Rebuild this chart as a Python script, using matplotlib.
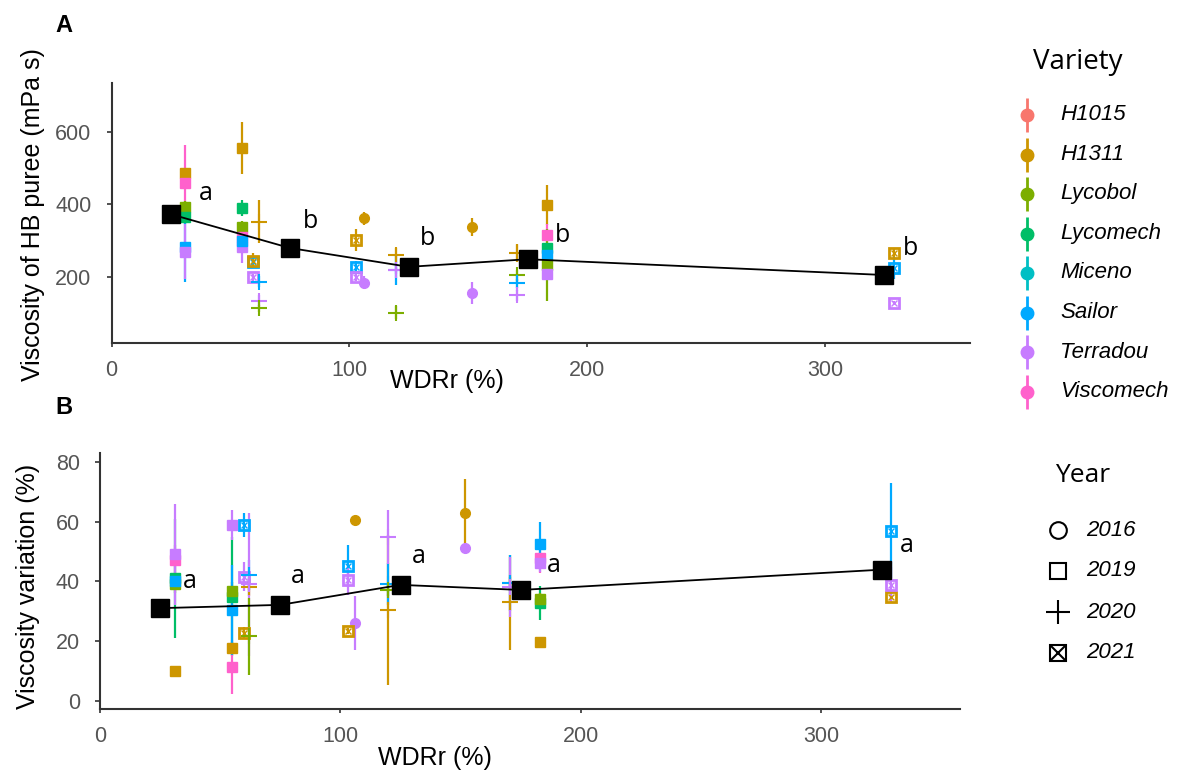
import numpy as np
import matplotlib
matplotlib.use("Agg")
import matplotlib.pyplot as plt

plt.rcParams['font.family'] = ['Liberation Sans', 'DejaVu Sans']

# varieties and ggplot default hue colours
varieties = ["H1015", "H1311", "Lycobol", "Lycomech", "Miceno", "Sailor", "Terradou", "Viscomech"]
var_colors = ["#F8766D", "#CD9600", "#7CAE00", "#00BE67", "#00BFC4", "#00A9FF", "#C77CFF", "#FF61CC"]
years = ["2016", "2019", "2020", "2021"]

obs_variety = ["H1311", "Viscomech", "Lycobol", "Lycomech", "Sailor", "Terradou",
               "H1311", "Lycomech", "Lycobol", "Viscomech", "Terradou", "Sailor",
               "Sailor", "H1311", "Terradou",
               "H1311", "Sailor", "Terradou", "Lycobol",
               "H1311", "Terradou",
               "H1311", "Sailor", "Terradou",
               "H1311", "Sailor", "Terradou", "Lycobol",
               "H1311", "Terradou",
               "H1311", "Lycobol", "Sailor", "Terradou",
               "H1311", "Viscomech", "Lycomech", "Sailor", "Lycobol", "Terradou",
               "H1311", "Sailor", "Terradou"]
obs_year = ["2019"] * 6 + ["2019"] * 6 + ["2021"] * 3 + ["2020"] * 4 + ["2016"] * 2 + \
           ["2021"] * 3 + ["2020"] * 4 + ["2016"] * 2 + ["2020"] * 4 + ["2019"] * 6 + ["2021"] * 3
obs_wdr = [31] * 6 + [55] * 6 + [59.7] * 3 + [62] * 4 + [106] * 2 + \
          [103] * 3 + [119.7] * 4 + [151.8] * 2 + [170.5] * 4 + [183] * 6 + [329] * 3

# A: viscosity of HB puree (mPa s)
visc = [488, 458, 394, 366, 284, 270,
        555, 390, 339, 311, 284, 300,
        242, 245, 199,
        353, 187, 135, 114,
        362, 184,
        302, 228, 201,
        261, 218, 219, 101,
        337, 155,
        265, 205, 183, 150,
        399, 316, 279, 261, 233, 208,
        265, 224, 129]
visc_err = [10, 106, 15, 20, 97, 75,
            72, 23, 15, 15, 46, 10,
            15, 20, 10,
            60, 15, 15, 10,
            18, 18,
            30, 15, 12,
            20, 39, 12, 18,
            25, 30,
            25, 15, 12, 15,
            55, 30, 15, 15, 100, 10,
            12, 30, 5]

# B: viscosity variation (%)
vvar = [10, 47, 39, 41, 40, 49,
        17.5, 34.9, 36.6, 11.2, 59, 30.4,
        59, 22.8, 41.6,
        38, 42.2, 39, 21.5,
        60.6, 26,
        23.2, 45.2, 40.3,
        30.4, 39, 54.8, 37,
        62.9, 51.1,
        32.9, 39.4, 39.4, 38,
        19.8, 47.8, 32.7, 52.5, 34, 46,
        34.9, 57, 38.8]
vvar_err = [1, 5, 3, 20, 2, 17,
            2, 20, 3, 9, 5, 15,
            4, 2, 5,
            3, 5, 24, 13,
            1, 9,
            1, 7, 5,
            25, 7, 9, 2,
            11.4, 1,
            16, 2, 9.5, 10,
            1, 5, 5.6, 7.5, 2, 3,
            2, 16, 6]

# class means
class_mid = [25, 75, 125, 175, 325]
visc_mean = [373, 280, 228, 249, 205.5]
vvar_mean = [31, 32.1, 38.8, 37.1, 43.9]
visc_letters = ["a", "b", "b", "b", "b"]
vvar_letters = ["a", "a", "a", "a", "a"]

W, H = 1180, 780
fig = plt.figure(figsize=(W / 100, H / 100), dpi=100)

def box(left, top, right, bottom):
    return [left / W, 1 - bottom / H, (right - left) / W, (bottom - top) / H]

axA = fig.add_axes(box(111.5, 83, 970, 343))
axB = fig.add_axes(box(100, 453, 960, 709.3))

color_of = dict(zip(varieties, var_colors))

def draw_points(ax, vals, errs):
    for v, yr, x, y, e in zip(obs_variety, obs_year, obs_wdr, vals, errs):
        c = color_of[v]
        ax.vlines(x, y - e, y + e, color=c, lw=1.6, zorder=2)
        if yr == "2016":
            ax.plot(x, y, marker='o', color=c, ms=7, ls='none', zorder=3)
        elif yr == "2019":
            ax.plot(x, y, marker='s', color=c, ms=7.5, ls='none', zorder=3)
        elif yr == "2020":
            ax.plot(x, y, marker='+', color=c, ms=12, mew=1.5, ls='none', zorder=3)
        else:
            ax.plot(x, y, marker='s', mfc='none', mec=c, ms=7, mew=2, ls='none', zorder=3)
            ax.plot(x, y, marker='x', color=c, ms=4, mew=1, ls='none', zorder=3)

def style(ax):
    for s in ['top', 'right']:
        ax.spines[s].set_visible(False)
    for s in ['left', 'bottom']:
        ax.spines[s].set_color('#333333')
        ax.spines[s].set_linewidth(1.5)
    ax.tick_params(colors='#333333', labelcolor='#555555', labelsize=15.5, width=1.2)
    ax.tick_params(axis='x', length=3, pad=9)
    ax.tick_params(axis='y', length=3.5, pad=11)
    ax.set_xticks([0, 100, 200, 300])

draw_points(axA, visc, visc_err)
axA.plot(class_mid, visc_mean, color='black', lw=1.3, marker='s', ms=12.5, zorder=5)
dxs = [35, 21, 19, 35, 26]
dys = [21, 26, 28, 24, 27]
for x, y, t, dx, dy in zip(class_mid, visc_mean, visc_letters, dxs, dys):
    axA.annotate(t, (x, y), xytext=(dx * 0.72, dy * 0.72), textcoords='offset points',
                 ha='center', va='center', fontsize=18, family=['Open Sans', 'DejaVu Sans'])
axA.set_xlim(0, 361)
axA.set_ylim(18, 735)
axA.set_yticks([200, 400, 600])
style(axA)

draw_points(axB, vvar, vvar_err)
axB.plot(class_mid, vvar_mean, color='black', lw=1.3, marker='s', ms=12.5, zorder=5)
dxs = [30, 17, 18, 33, 25]
dys = [27, 28, 28, 24, 24]
for x, y, t, dx, dy in zip(class_mid, vvar_mean, vvar_letters, dxs, dys):
    axB.annotate(t, (x, y), xytext=(dx * 0.72, dy * 0.72), textcoords='offset points',
                 ha='center', va='center', fontsize=18, family=['Open Sans', 'DejaVu Sans'])
axB.set_xlim(0, 357.6)
axB.set_ylim(-2.9, 83)
axB.set_yticks([0, 20, 40, 60, 80])
style(axB)

def ftext(x, y, s, **kw):
    fig.text(x / W, 1 - y / H, s, **kw)

ftext(64, 25, "A", fontsize=17, fontweight='bold', ha='center', va='center')
ftext(64, 408, "B", fontsize=17, fontweight='bold', ha='center', va='center')
ftext(447, 381, "WDRr (%)", fontsize=18, ha='center', va='center')
ftext(435, 758, "WDRr (%)", fontsize=18, ha='center', va='center')
ftext(33, 215, "Viscosity of HB puree (mPa s)", fontsize=18, rotation=90, ha='center', va='center')
ftext(28, 586, "Viscosity variation (%)", fontsize=18, rotation=90, ha='center', va='center')

# legends drawn on an overlay in pixel coordinates
lg = fig.add_axes([0, 0, 1, 1])
lg.set_xlim(0, W)
lg.set_ylim(H, 0)
lg.axis('off')
lg.patch.set_alpha(0)

lg.text(1078, 62, "Variety", fontsize=20, ha='center', va='center', family=['Open Sans', 'DejaVu Sans'])
for i, (v, c) in enumerate(zip(varieties, var_colors)):
    yy = 115 + i * 39.5
    lg.vlines(1027, yy - 17, yy + 17, color=c, lw=2)
    lg.plot(1027, yy, marker='o', color=c, ms=9)
    lg.text(1060, yy, v, fontsize=16, style='italic', ha='left', va='center')

lg.text(1083, 475, "Year", fontsize=19, ha='center', va='center', family=['Open Sans', 'DejaVu Sans'])
for i, yr in enumerate(years):
    yy = 530 + i * 41
    if yr == "2016":
        lg.plot(1058, yy, marker='o', mfc='none', mec='black', ms=12, mew=1.5)
    elif yr == "2019":
        lg.plot(1058, yy, marker='s', mfc='none', mec='black', ms=12, mew=1.5)
    elif yr == "2020":
        lg.plot(1058, yy, marker='+', color='black', ms=17, mew=1.5)
    else:
        lg.plot(1058, yy, marker='s', mfc='none', mec='black', ms=12, mew=1.5)
        lg.plot(1058, yy, marker='x', color='black', ms=11, mew=1.5)
    lg.text(1086, yy, yr, fontsize=16, style='italic', ha='left', va='center')

fig.savefig("out.png", dpi=100)
